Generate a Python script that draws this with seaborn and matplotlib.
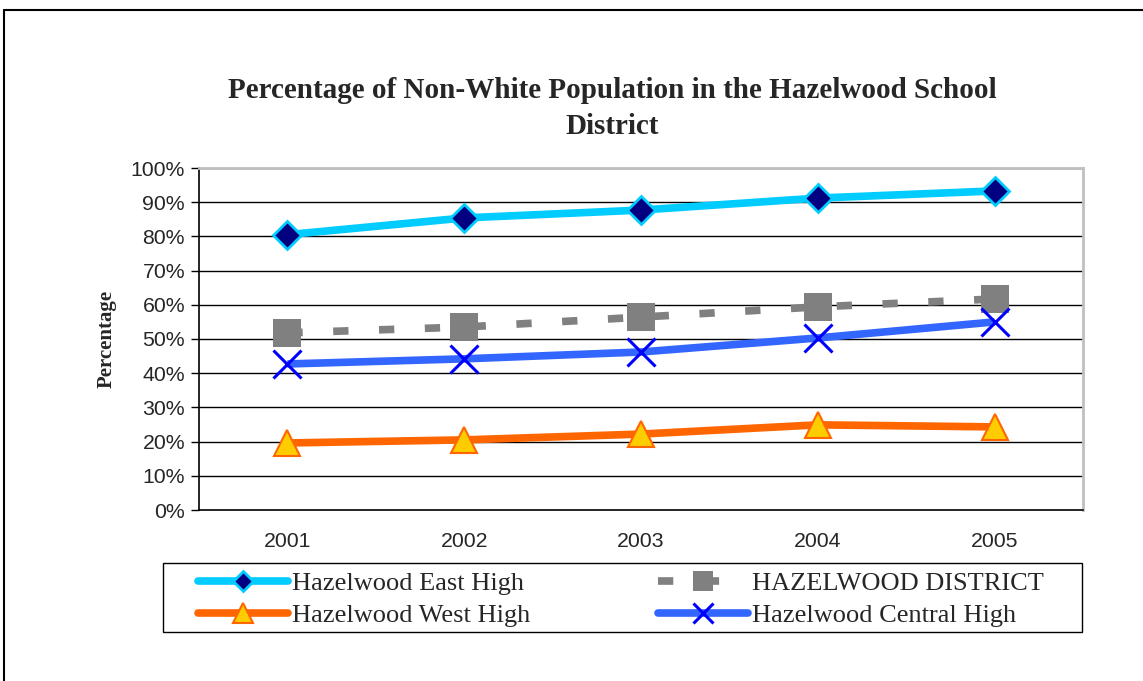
import matplotlib
matplotlib.use("Agg")
import matplotlib.pyplot as plt
from matplotlib.lines import Line2D
from matplotlib.patches import Rectangle
import seaborn as sns
import pandas as pd
import numpy as np

years = ["2001", "2002", "2003", "2004", "2005"]
east_high = [80.5, 85.4, 87.7, 91.2, 93.3]
district = [51.8, 53.5, 56.4, 59.4, 61.7]
west_high = [19.6, 20.5, 22.2, 24.9, 24.3]
central_high = [42.7, 44.2, 46.2, 50.3, 55.0]
y_ticks = [0, 10, 20, 30, 40, 50, 60, 70, 80, 90, 100]

sns.set_theme(style="white")
plt.rcParams["font.family"] = ["Liberation Sans", "DejaVu Sans"]

W, H = 1143, 681
fig = plt.figure(figsize=(W / 100, H / 100), dpi=100)
ax = fig.add_axes([199 / W, 1 - 510 / H, (1083 - 199) / W, (510 - 168) / H])

xpos = list(range(len(years)))

# gridlines
for t in y_ticks[1:]:
    ax.axhline(t, color="#000000" if t < 100 else "#c0c0c0", lw=1.0 if t < 100 else 2.0, zorder=0)

LW = 5.5
styles = {
    "Hazelwood East High": dict(color="#00CCFF", lw=LW, marker="D", markersize=14,
                                markerfacecolor="#000080", markeredgecolor="#00CCFF",
                                markeredgewidth=2),
    "Hazelwood West High": dict(color="#FF6600", lw=LW, marker="^", markersize=19,
                                markerfacecolor="#FFCC00", markeredgecolor="#FF6600",
                                markeredgewidth=1.5),
    "HAZELWOOD DISTRICT": dict(color="#808080", lw=LW, marker="s", markersize=19.5,
                               markerfacecolor="#808080", markeredgecolor="#808080",
                               markeredgewidth=0),
    "Hazelwood Central High": dict(color="#3366FF", lw=LW, marker="x", markersize=20,
                                   markeredgecolor="#0000FF", markeredgewidth=2.2),
}
legend_marker_size = {
    "Hazelwood East High": 10,
    "Hazelwood West High": 14,
    "HAZELWOOD DISTRICT": 14,
    "Hazelwood Central High": 15,
}
data = {
    "Hazelwood East High": east_high,
    "Hazelwood West High": west_high,
    "HAZELWOOD DISTRICT": district,
    "Hazelwood Central High": central_high,
}
dash_pattern = (2, 4)

handles = {}
for name, vals in data.items():
    st = styles[name]
    df = pd.DataFrame({"x": xpos, "y": vals})
    sns.lineplot(data=df, x="x", y="y", ax=ax, legend=False, **st)
    line = ax.lines[-1]
    line.set_solid_capstyle("butt")
    h = Line2D([], [], **st)
    h.set_solid_capstyle("round")
    h.set_markersize(legend_marker_size[name])
    if name == "HAZELWOOD DISTRICT":
        line.set_dashes(dash_pattern)
        h.set_dashes(dash_pattern)
    handles[name] = h

ax.set_xlim(-0.5, len(years) - 0.5)
ax.set_ylim(0, 100)
ax.set_yticks(y_ticks)
ax.set_yticklabels([f"{t}%" for t in y_ticks], fontsize=15.3)
ax.set_xticks(xpos)
ax.set_xticklabels(years, fontsize=15.3)
ax.set_xticks(np.arange(-0.5, len(years)), minor=True)
ax.tick_params(axis="x", which="major", length=0, pad=16)
ax.tick_params(axis="x", which="minor", length=6, width=1, direction="out", color="black")
ax.tick_params(axis="y", which="major", length=6, width=1, direction="out", color="black", left=True, pad=4)
ax.set_xlabel("")
ax.set_ylabel("Percentage", fontsize=15, fontweight="bold", family=["Liberation Serif"], labelpad=10)

for side in ["left", "bottom"]:
    ax.spines[side].set_color("black")
    ax.spines[side].set_linewidth(1.2)
for side in ["top", "right"]:
    ax.spines[side].set_color("#c0c0c0")
    ax.spines[side].set_linewidth(2)

fig.suptitle("Percentage of Non-White Population in the Hazelwood School\nDistrict",
             x=612 / W, y=1 - 77 / H, va="top", fontsize=21, fontweight="bold",
             family=["Liberation Serif"], linespacing=1.45)

# legend: frame drawn separately, two columns as two legends
fig.add_artist(Rectangle((163 / W, 1 - 632 / H), (1082 - 163) / W, 69 / H, transform=fig.transFigure,
                         facecolor="white", edgecolor="black", lw=1.0, zorder=1))
common = dict(loc="center left", frameon=False, prop={"family": "Liberation Serif", "size": 19},
              handlelength=3.4, handletextpad=0.15, labelspacing=0.33, borderaxespad=0, borderpad=0)
col1 = ["Hazelwood East High", "Hazelwood West High"]
col2 = ["HAZELWOOD DISTRICT", "Hazelwood Central High"]
leg1 = fig.legend([handles[n] for n in col1], col1, bbox_to_anchor=(198 / W, 1 - 599.5 / H), **common)
leg2 = fig.legend([handles[n] for n in col2], col2, bbox_to_anchor=(658 / W, 1 - 599.5 / H), **common)
leg1.set_zorder(3)
leg2.set_zorder(3)

# outer border
fig.add_artist(Line2D([4 / W, 1], [1 - 10 / H, 1 - 10 / H], color="black", lw=1.5,
                      transform=fig.transFigure))
fig.add_artist(Line2D([4 / W, 4 / W], [0, 1 - 10 / H], color="black", lw=1.5,
                      transform=fig.transFigure))

fig.savefig("out.png", dpi=100)
